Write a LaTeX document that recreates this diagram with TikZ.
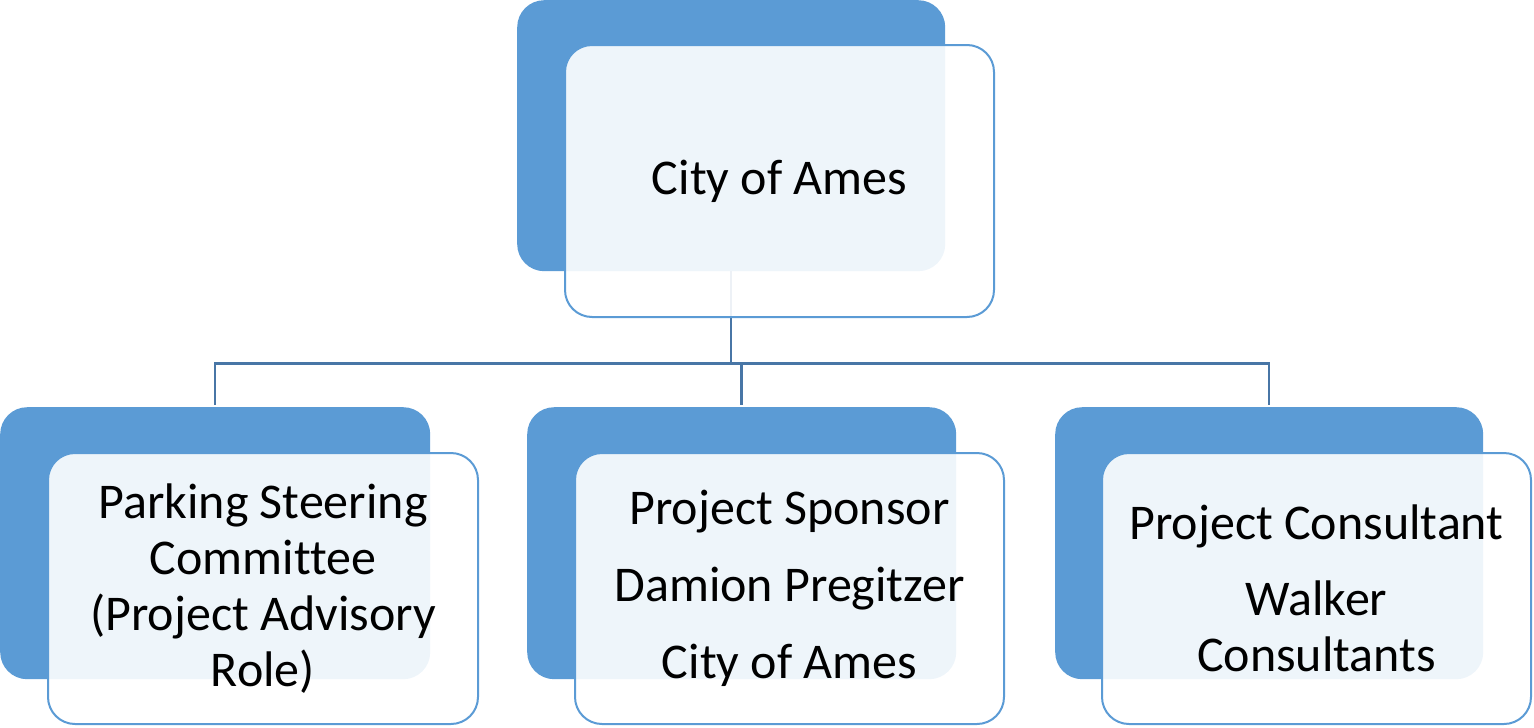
\documentclass[tikz,border=0pt]{standalone}
\usepackage{fontspec}
\setmainfont{Carlito}[Ligatures=NoCommon]
\usetikzlibrary{calc}
\definecolor{darkbox}{RGB}{91,155,213}
\definecolor{connc}{RGB}{72,118,166}
\tikzset{
  darkrect/.style={draw=none, fill=darkbox, rounded corners=27pt, inner sep=0pt, anchor=north west},
  lightrect/.style={draw=darkbox, line width=2pt, fill=white, fill opacity=0.9, text opacity=1,
     rounded corners=27pt, inner sep=0pt, anchor=center, align=center, text=black},
  conn/.style={draw=connc, line width=2.5pt},
  bigtext/.style={font=\fontsize{50}{60}\selectfont},
  smalltext/.style={font=\fontsize{50}{56}\selectfont}
}
\begin{document}
\begin{tikzpicture}[x=1pt,y=-1pt]
\useasboundingbox (0,0) rectangle (1534,728);
% dark boxes
\node[darkrect, minimum width=428pt, minimum height=271pt] (topdark) at (517,0) {};
\node[darkrect, minimum width=430pt, minimum height=272pt] (d1) at (0,407) {};
\node[darkrect, minimum width=429pt, minimum height=272pt] (d2) at (527,407) {};
\node[darkrect, minimum width=428pt, minimum height=272pt] (d3) at (1055,407) {};
% connectors
\coordinate (bus) at ($(topdark.south)+(0,92)$);
\draw[conn] (topdark.south) -- (bus);
\draw[conn] (bus) -| ($(d1.north)+(0,-2)$);
\draw[conn] (bus) -| ($(d2.north)+(0,-2)$);
\draw[conn] (bus) -| ($(d3.north)+(0,-2)$);
% light boxes
\node[lightrect, bigtext, minimum width=429pt, minimum height=272pt] (toplight) at (779.5,181) {City of Ames};
\node[lightrect, smalltext, minimum width=430pt, minimum height=271pt] (l1) at (263,588.5)
  {Parking Steering\\Committee\\(Project Advisory\\Role)};
\node[lightrect, smalltext, minimum width=429pt, minimum height=271pt] (l2) at (789.5,588.5)
  {Project Sponsor\\[21pt]Damion Pregitzer\\[21pt]City of Ames};
\node[lightrect, smalltext, minimum width=429pt, minimum height=271pt] (l3) at (1316.5,588.5)
  {Project Consultant\\[20pt]Walker\\Consultants};
\end{tikzpicture}
\end{document}
